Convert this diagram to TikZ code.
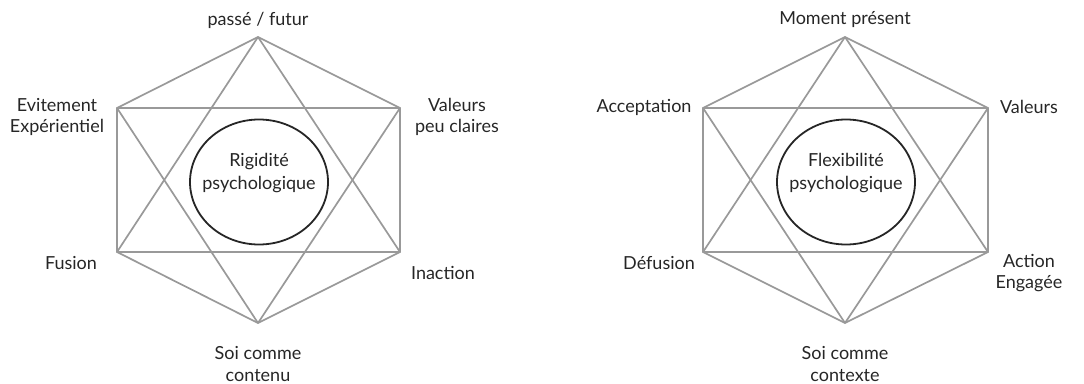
\documentclass[tikz,border=0pt]{standalone}
\usepackage{fontspec}
\setmainfont{Lato}
\usetikzlibrary{shapes.geometric}
\begin{document}
\begin{tikzpicture}[x=1pt,y=-1pt,
  edge/.style={draw=black!40,line width=1.7pt},
  core/.style={draw=black!85,line width=1.8pt,ellipse,minimum width=138pt,minimum height=125pt,inner sep=0pt,fill=white},
  coretext/.style={align=center,font=\fontsize{18}{22.5}\selectfont,text=black!85,inner sep=0pt},
  lbl/.style={align=center,font=\fontsize{18}{21.5}\selectfont,text=black!85,inner sep=0pt}]
\useasboundingbox (0,0) rectangle (1084,383);
% left hexagon
\coordinate (LT) at (258,37);
\coordinate (LUL) at (117,108);
\coordinate (LUR) at (400,108);
\coordinate (LLL) at (117,252);
\coordinate (LLR) at (400,252);
\coordinate (LB) at (258,323);
\draw[edge] (LT) -- (LUL) -- (LLL) -- (LB) -- (LLR) -- (LUR) -- cycle;
\draw[edge] (LUL) -- (LUR);
\draw[edge] (LLL) -- (LLR);
\draw[edge] (LT) -- (LLL);
\draw[edge] (LT) -- (LLR);
\draw[edge] (LUL) -- (LB);
\draw[edge] (LUR) -- (LB);
\node[core] (Lc) at (259,182) {};
\node[coretext] (Lct) at ([yshift=9pt]Lc.center) {Rigidité\\psychologique};
\node[lbl] (l1) at (258,20) {passé / futur};
\node[lbl] (l2) at (57,117) {Evitement\\Expérientiel};
\node[lbl] (l3) at (457,117) {Valeurs\\peu claires};
\node[lbl] (l4) at (71,263) {Fusion};
\node[lbl] (l5) at (443,273) {Inaction};
\node[lbl] (l6) at (258,364) {Soi comme\\contenu};
% right hexagon
\coordinate (RT) at (845,37);
\coordinate (RUL) at (703,108);
\coordinate (RUR) at (988,108);
\coordinate (RLL) at (703,252);
\coordinate (RLR) at (988,252);
\coordinate (RB) at (845,323);
\draw[edge] (RT) -- (RUL) -- (RLL) -- (RB) -- (RLR) -- (RUR) -- cycle;
\draw[edge] (RUL) -- (RUR);
\draw[edge] (RLL) -- (RLR);
\draw[edge] (RT) -- (RLL);
\draw[edge] (RT) -- (RLR);
\draw[edge] (RUL) -- (RB);
\draw[edge] (RUR) -- (RB);
\node[core] (Rc) at (846,182) {};
\node[coretext] (Rct) at ([yshift=9pt]Rc.center) {Flexibilité\\psychologique};
\node[lbl] (r1) at (845,20) {Moment présent};
\node[lbl] (r2) at (644,107) {Acceptation};
\node[lbl] (r3) at (1029,107) {Valeurs};
\node[lbl] (r4) at (659,263) {Défusion};
\node[lbl] (r5) at (1029,273) {Action\\Engagée};
\node[lbl] (r6) at (845,364) {Soi comme\\contexte};
\end{tikzpicture}
\end{document}
